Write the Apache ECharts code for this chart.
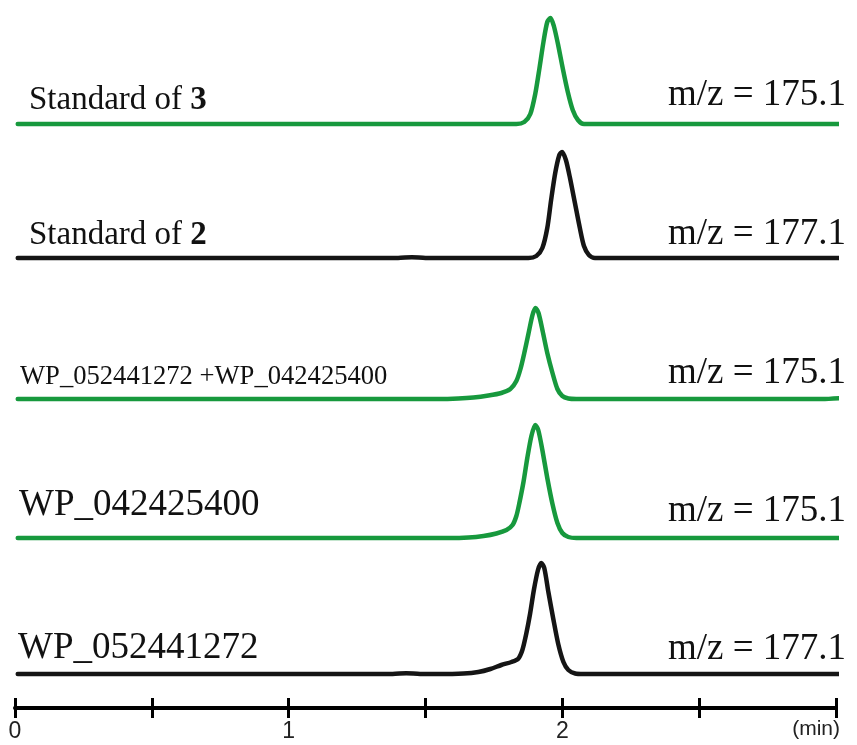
<!DOCTYPE html>
<html>
<head>
<meta charset="utf-8">
<script src="https://cdn.jsdelivr.net/npm/echarts@6/dist/echarts.min.js"></script>
<style>
  html, body { margin: 0; padding: 0; background: #ffffff; }
  #chart { width: 857px; height: 745px; }
</style>
</head>
<body>
<div id="chart"></div>
<script>
// ---- data (time in min, relative intensity) ----
const xTickLabels = ['0', '1', '2'];
const xUnit = '(min)';

const traceNames = ['Standard of |3', 'Standard of |2', 'WP_052441272 +WP_042425400', 'WP_042425400', 'WP_052441272'];
const mzLabels = ['m/z = 175.1', 'm/z = 177.1', 'm/z = 175.1', 'm/z = 175.1', 'm/z = 177.1'];
const traceColors = ['green', 'black', 'green', 'green', 'black'];

const trace1 = [[0.01,0],[1.832,0],[1.861,2],[1.883,10],[1.901,30],[1.916,55],[1.931,82],[1.945,102],[1.957,106],[1.969,98],[1.984,80],[2.002,55],[2.020,32],[2.038,14],[2.057,4],[2.079,0],[3.02,0]];
const trace2 = [[0.01,0],[1.40,0],[1.45,0.8],[1.50,0],[1.876,0],[1.905,2],[1.927,10],[1.945,30],[1.959,58],[1.974,85],[1.989,103],[1.999,106],[2.013,98],[2.028,80],[2.046,55],[2.064,30],[2.079,12],[2.097,3],[2.119,0],[3.02,0]];
const trace3 = [[0.01,0],[1.547,0],[1.620,0.5],[1.675,1.5],[1.730,3.5],[1.777,6],[1.810,10],[1.832,18],[1.847,30],[1.861,46],[1.876,65],[1.891,84],[1.902,91],[1.913,86],[1.928,68],[1.945,46],[1.964,26],[1.982,10],[2.000,3],[2.022,0.5],[2.051,0],[2.95,0],[3.02,1]];
const trace4 = [[0.01,0],[1.584,0],[1.657,0.5],[1.712,2],[1.759,4.5],[1.796,8],[1.818,13],[1.832,22],[1.843,35],[1.858,56],[1.872,80],[1.887,102],[1.901,113],[1.912,108],[1.927,88],[1.945,60],[1.964,34],[1.982,15],[2.000,5],[2.022,1],[2.051,0],[3.02,0]];
const trace5 = [[0.01,0],[1.38,0],[1.43,0.8],[1.48,0],[1.547,0],[1.639,0.5],[1.693,2],[1.737,5],[1.777,9],[1.814,12],[1.838,15],[1.854,24],[1.868,40],[1.882,60],[1.896,84],[1.911,104],[1.923,111],[1.934,106],[1.949,82],[1.967,55],[1.985,30],[2.004,12],[2.022,4],[2.047,0.5],[2.077,0],[3.02,0]];
const traces = [trace1, trace2, trace3, trace4, trace5];

// ---- layout ----
const COLORS = { green: '#17993d', black: '#151515' };
const baselines = [124, 258, 399, 538, 674];
const gridH = 115;
const axisY = 708;
const gridLeft = 15, gridRight = 21;
const serif = '"Liberation Serif", "Times New Roman", serif';
const sans = '"Liberation Sans", Arial, sans-serif';

const grids = [], xAxes = [], yAxes = [], series = [];
baselines.forEach((b, i) => {
  grids.push({ left: gridLeft, right: gridRight, top: b - gridH, height: gridH });
  yAxes.push({ gridIndex: i, type: 'value', min: 0, max: gridH, show: false });
  xAxes.push({ gridIndex: i, type: 'value', min: 0, max: 3, show: false });
  series.push({
    type: 'line', xAxisIndex: i, yAxisIndex: i, data: traces[i],
    showSymbol: false, smooth: 0.25, clip: false,
    lineStyle: { color: COLORS[traceColors[i]], width: 4.5, cap: 'round', join: 'round' },
    silent: true, animation: false
  });
});
const last = baselines.length - 1;
// visible time axis (ticks out)
xAxes.push({
  gridIndex: last, type: 'value', min: 0, max: 3, interval: 0.5,
  position: 'bottom', offset: axisY - baselines[last],
  axisLine: { show: true, lineStyle: { color: '#000', width: 4 } },
  axisTick: { show: true, inside: false, length: 10, lineStyle: { color: '#000', width: 3 } },
  axisLabel: {
    show: true, margin: 12, fontFamily: sans, fontSize: 23, color: '#222',
    formatter: v => (Math.abs(v - Math.round(v)) < 1e-9 && v < 3) ? xTickLabels[Math.round(v)] : ''
  },
  splitLine: { show: false }
});
// ticks inward
xAxes.push({
  gridIndex: last, type: 'value', min: 0, max: 3, interval: 0.5,
  position: 'bottom', offset: axisY - baselines[last],
  axisLine: { show: false },
  axisTick: { show: true, inside: true, length: 10, lineStyle: { color: '#000', width: 3 } },
  axisLabel: { show: false }, splitLine: { show: false }
});

// text labels
const nameFont = [33, 33, 26.6, 37, 37];
const nameX = [29, 29, 20, 19, 18];
const nameBase = [113, 248, 387, 520, 663];
const mzBase = [110, 249, 388, 526, 664];
const graphics = [];
traceNames.forEach((n, i) => {
  const parts = n.split('|');
  const fs = nameFont[i];
  const txt = parts.length > 1 ? '{a|' + parts[0] + '}{b|' + parts[1] + '}' : '{a|' + parts[0] + '}';
  graphics.push({
    type: 'text', left: nameX[i], top: nameBase[i] - fs * 0.89,
    style: {
      text: txt, fill: '#111',
      rich: {
        a: { fontFamily: serif, fontSize: fs, fill: '#111' },
        b: { fontFamily: serif, fontSize: fs, fontWeight: 'bold', fill: '#111' }
      }
    }, silent: true
  });
  graphics.push({
    type: 'text', right: 857 - 846, top: mzBase[i] - 37 * 0.89,
    style: { text: mzLabels[i], fontFamily: serif, fontSize: 37, fill: '#111' }, silent: true
  });
});
graphics.push({
  type: 'text', right: 857 - 840, top: 719,
  style: { text: xUnit, fontFamily: sans, fontSize: 21, fill: '#222' }, silent: true
});

const chart = echarts.init(document.getElementById('chart'), null, { renderer: 'canvas' });
chart.setOption({
  backgroundColor: '#ffffff',
  animation: false,
  grid: grids, xAxis: xAxes, yAxis: yAxes, series: series,
  graphic: graphics
});
</script>
</body>
</html>
